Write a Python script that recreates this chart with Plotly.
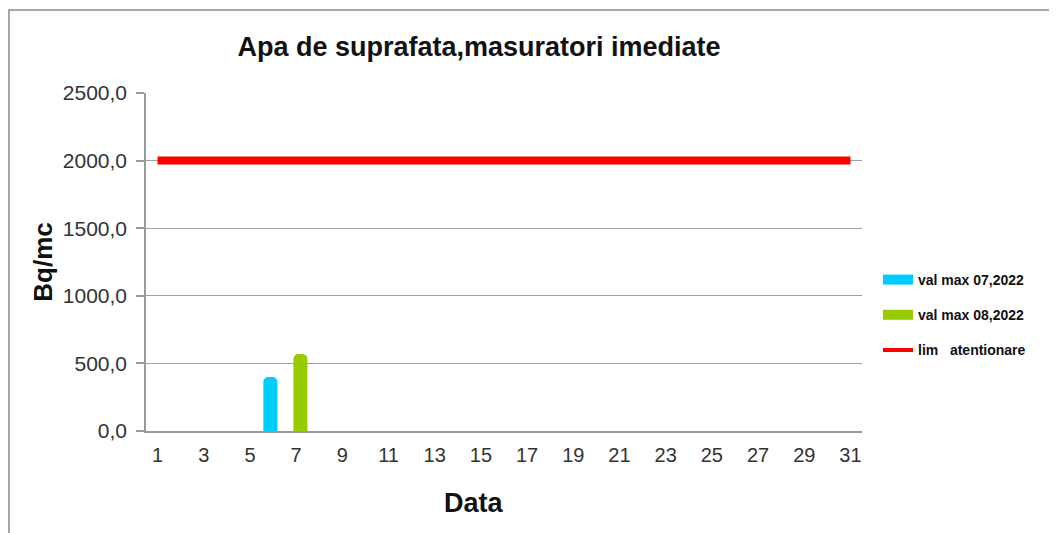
import plotly.graph_objects as go

# ---- data ----
day_ticks = [1, 3, 5, 7, 9, 11, 13, 15, 17, 19, 21, 23, 25, 27, 29, 31]
jul_days = [6]
jul_vals = [400.0]
aug_days = [7]
aug_vals = [570.0]
lim_days = [1, 31]
lim_vals = [2000.0, 2000.0]
y_ticks = [0, 500, 1000, 1500, 2000, 2500]

names = ["val max 07,2022", "val max 08,2022", "lim\u00a0\u00a0\u00a0atentionare"]
BLUE = "#00CCFF"
GREEN = "#99CC00"
RED = "#FF0000"

OFF = 8  # page body margin
W, H = 1057 - OFF, 533 - OFF

fig = go.Figure()

fig.add_trace(go.Bar(x=jul_days, y=jul_vals, width=0.61, offset=-0.42,
                     marker=dict(color=BLUE, line=dict(width=0), cornerradius=5),
                     showlegend=False, name=names[0]))
fig.add_trace(go.Bar(x=aug_days, y=aug_vals, width=0.61, offset=-0.12,
                     marker=dict(color=GREEN, line=dict(width=0), cornerradius=5),
                     showlegend=False, name=names[1]))
fig.add_trace(go.Scatter(x=lim_days, y=lim_vals, mode="lines",
                         line=dict(color=RED, width=8), showlegend=False, name=names[2]))

fig.add_trace(go.Scatter(x=[None], y=[None], mode="lines", name=names[0],
                         line=dict(color=BLUE, width=10), legendgroup="a"))
fig.add_trace(go.Scatter(x=[None], y=[None], mode="lines", name=names[1],
                         line=dict(color=GREEN, width=10), legendgroup="b"))
fig.add_trace(go.Scatter(x=[None], y=[None], mode="lines", name=names[2],
                         line=dict(color=RED, width=4), legendgroup="c"))

fig.update_layout(
    width=W, height=H,
    margin=dict(l=146 - OFF, r=195, t=93 - OFF, b=102, autoexpand=False),
    paper_bgcolor="white", plot_bgcolor="white",
    separators=",.",
    font=dict(family="Liberation Sans, Arial, sans-serif", color="#222222"),
    title=dict(text="<b>Apa de suprafata,masuratori imediate</b>",
               x=(479 - OFF) / W, xref="container", xanchor="center",
               y=1 - (47 - OFF) / H, yref="container", yanchor="middle",
               font=dict(size=27, color="#111111")),
    barmode="overlay",
    xaxis=dict(range=[0.5, 31.5], tickmode="array", tickvals=day_ticks,
               ticktext=[str(d) for d in day_ticks], showgrid=False,
               showline=True, linecolor="#9a9a9a", linewidth=1.5,
               ticks="", tickfont=dict(size=20, color="#333333"),
               ticklabelstandoff=5, zeroline=False),
    yaxis=dict(range=[0, 2500], tickmode="array", tickvals=y_ticks,
               tickformat=".1f", showgrid=True, gridcolor="#a0a0a0", gridwidth=1.2,
               showline=True, linecolor="#9a9a9a", linewidth=1.5,
               ticks="outside", ticklen=8, tickcolor="#9a9a9a", tickwidth=1.5,
               tickfont=dict(size=21, color="#333333"), ticklabelstandoff=5,
               zeroline=False,
               title=dict(text="<b>Bq/mc</b>", font=dict(size=26, color="#111111"),
                          standoff=3),
               automargin=False),
    legend=dict(x=(878 - 146) / 716, xanchor="left", y=(431 - 264) / 338, yanchor="top",
                font=dict(size=14, color="#111111", weight="bold"),
                tracegroupgap=14, bgcolor="rgba(0,0,0,0)", traceorder="grouped"),
    annotations=[dict(text="<b>Data</b>", xref="paper", yref="paper",
                      x=(474 - 146) / 716, y=(431 - 503) / 338,
                      xanchor="center", yanchor="middle", showarrow=False,
                      font=dict(size=27, color="#111111"))],
    shapes=[dict(type="rect", xref="paper", yref="paper",
                 x0=(9 - 146) / 716, x1=(1070 - 146) / 716,
                 y0=(431 - 545) / 338, y1=(431 - 10) / 338,
                 line=dict(color="#8a8a8a", width=1.5), fillcolor="rgba(0,0,0,0)",
                 layer="below")],
)

fig.write_html("out.html")
